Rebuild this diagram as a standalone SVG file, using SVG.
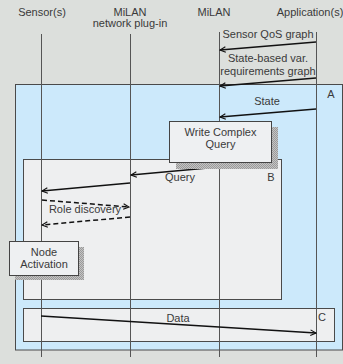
<svg xmlns="http://www.w3.org/2000/svg" width="343" height="364" viewBox="0 0 343 364">
<style>
text{font-family:"Liberation Sans",Arial,sans-serif;font-size:11px;fill:#3a3a3a;text-anchor:middle}
.life{stroke:#555;stroke-width:1;fill:none}
.frame{stroke:#4a4a4a;stroke-width:1}
.msg{stroke:#111;stroke-width:1.5;fill:none;marker-end:url(#ah)}
.dash{stroke-dasharray:5 3}
.act{fill:#eef0f2;stroke:#444;stroke-width:1}
.shadow{fill:url(#hatch)}
</style>
<defs>
<marker id="ah" viewBox="0 0 10 10" refX="9" refY="5" markerWidth="7" markerHeight="7" markerUnits="userSpaceOnUse" orient="auto">
<path d="M1,1 L9,5 L1,9" fill="none" stroke="#111" stroke-width="1.6"/>
</marker>
<pattern id="hatch" width="2" height="2" patternUnits="userSpaceOnUse">
<rect width="2" height="2" fill="#c4c4c4"/>
<rect width="1" height="1" fill="#9a9a9a"/>
<rect x="1" y="1" width="1" height="1" fill="#9a9a9a"/>
</pattern>
</defs>
<rect width="343" height="364" fill="#dcdfdc"/>
<g id="frameA"><rect class="frame" x="15.5" y="84.5" width="327" height="265.5" fill="#cce9fb"/><text x="331" y="98">A</text></g>
<g id="frameB"><rect class="frame" x="23.5" y="159.5" width="258" height="140" fill="#eeeff0"/><text x="271" y="181">B</text></g>
<g id="frameC"><rect class="frame" x="23.5" y="308.5" width="311" height="33" fill="#eeeff0"/><text x="322" y="321">C</text></g>
<g id="sensor"><text x="42" y="16">Sensor(s)</text><line class="life" x1="41.5" y1="34" x2="41.5" y2="357"/></g>
<g id="plugin"><text x="130" y="16">MiLAN</text><text x="130" y="27">network plug-in</text><line class="life" x1="130.5" y1="34" x2="130.5" y2="357"/></g>
<g id="milan"><text x="214" y="16">MiLAN</text><line class="life" x1="219.5" y1="32" x2="219.5" y2="357"/></g>
<g id="app"><text x="310" y="16">Application(s)</text><line class="life" x1="316.5" y1="32" x2="316.5" y2="357"/></g>
<g id="connectors">
<line class="msg" x1="316" y1="42" x2="220" y2="50"/>
<text x="268" y="38">Sensor QoS graph</text>
<line class="msg" x1="316" y1="78" x2="220" y2="86"/>
<text x="268" y="62">State-based var.</text>
<text x="268" y="75">requirements graph</text>
<line class="msg" x1="316" y1="109" x2="220" y2="117"/>
<text x="267" y="105">State</text>
<line class="msg" x1="219" y1="167" x2="131" y2="175"/>
<text x="180" y="181">Query</text>
<line class="msg" x1="130" y1="183" x2="42" y2="191"/>
<line class="msg dash" x1="42" y1="200" x2="129" y2="207"/>
<text x="85" y="213">Role discovery</text>
<line class="msg dash" x1="130" y1="217" x2="42" y2="225"/>
<line class="msg" x1="41" y1="316" x2="316" y2="333"/>
<text x="178" y="322">Data</text>
</g>
<g id="writeQuery"><rect class="shadow" x="176" y="127" width="102" height="42"/><rect class="act" x="169.5" y="121.5" width="102" height="41"/><text x="220.5" y="136">Write Complex</text><text x="220.5" y="148">Query</text></g>
<g id="nodeActivation"><rect class="shadow" x="15" y="247" width="69" height="33"/><rect class="act" x="9.5" y="241.5" width="69" height="34"/><text x="44" y="256">Node</text><text x="44" y="268">Activation</text></g>
</svg>
